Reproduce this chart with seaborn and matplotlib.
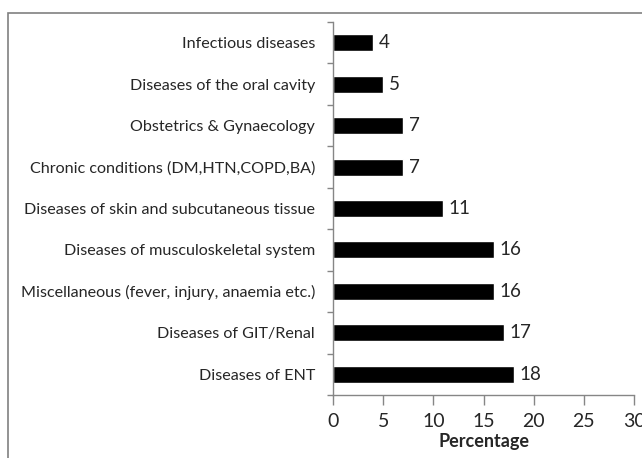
import matplotlib
matplotlib.use("Agg")
import matplotlib.pyplot as plt
import seaborn as sns
import pandas as pd
from matplotlib.patches import Rectangle

categories = [
    "Infectious diseases",
    "Diseases of the oral cavity",
    "Obstetrics & Gynaecology",
    "Chronic conditions (DM,HTN,COPD,BA)",
    "Diseases of skin and subcutaneous tissue",
    "Diseases of musculoskeletal system",
    "Miscellaneous (fever, injury, anaemia etc.)",
    "Diseases of GIT/Renal",
    "Diseases of ENT",
]
values = [4, 5, 7, 7, 11, 16, 16, 17, 18]
xticks = [0, 5, 10, 15, 20, 25, 30]

sns.set_theme(style="white")
plt.rcParams["font.family"] = ["Lato", "DejaVu Sans"]

df = pd.DataFrame({"cat": categories, "val": values})

fig = plt.figure(figsize=(6.42, 4.58), dpi=100)
ax = fig.add_axes([333/642, 1-395/458, (634-333)/642, (395-22)/458])

sns.barplot(data=df, y="cat", x="val", orient="h", color="black",
            width=0.41, ax=ax, saturation=1)

ax.set_xlim(0, 30)
ax.set_ylim(8.5, -0.5)
ax.set_xticks(xticks)
ax.set_xticklabels([str(t) for t in xticks], fontsize=14)
ax.set_yticks(range(len(categories)))
ax.set_yticklabels(categories, fontsize=11.6)
ax.set_yticks([i - 0.5 for i in range(len(categories) + 1)], minor=True)
ax.tick_params(axis="y", which="major", length=0, pad=13)
ax.tick_params(axis="y", which="minor", length=4, direction="out", color="#868686", width=1, left=True)
ax.tick_params(axis="x", length=7, direction="out", color="#868686", width=1, bottom=True, pad=6)
ax.set_ylabel("")
ax.set_xlabel("Percentage", fontsize=13, fontweight="bold", labelpad=2)

for s in ["top", "right"]:
    ax.spines[s].set_visible(False)
for s in ["left", "bottom"]:
    ax.spines[s].set_color("#868686")
    ax.spines[s].set_linewidth(1)

for c in ax.containers:
    ax.bar_label(c, labels=[str(v) for v in values], padding=4, fontsize=13.5)

fig.patches.append(Rectangle((8/642, -0.1), 1.2, 1 - 13/458 + 0.1, transform=fig.transFigure,
                             fill=False, edgecolor="#808080", linewidth=1.2))

fig.savefig("out.png", dpi=100)
